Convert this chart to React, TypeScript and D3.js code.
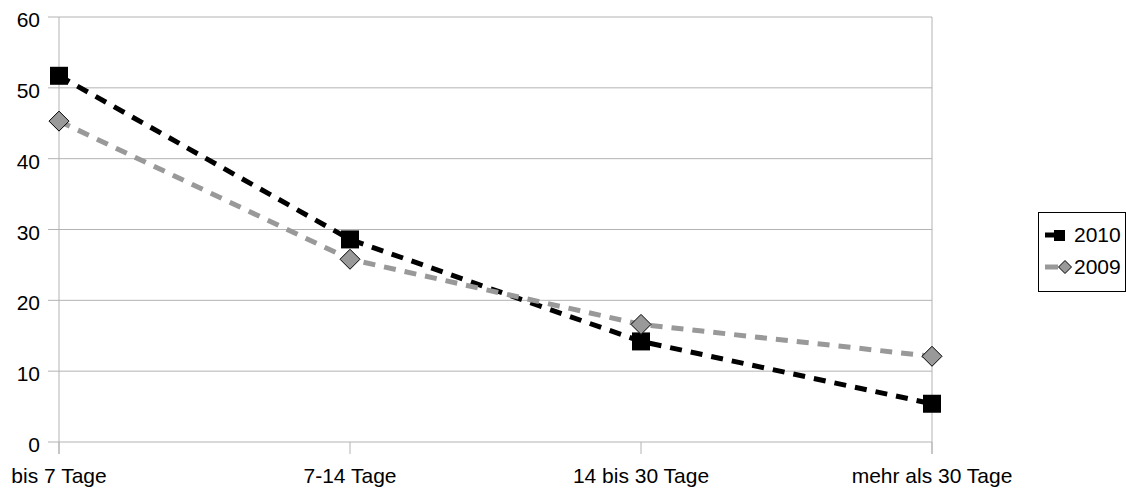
import React from "react";
import * as d3 from "d3";

const categories = ["bis 7 Tage", "7-14 Tage", "14 bis 30 Tage", "mehr als 30 Tage"];
const series2010 = [51.7, 28.6, 14.2, 5.4];
const series2009 = [45.3, 25.8, 16.6, 12.1];
const yTicks = [0, 10, 20, 30, 40, 50, 60];
const seriesNames = ["2010", "2009"];

export default function App() {
  const W = 1126, H = 488;
  const left = 59, right = 932, top = 17, bottom = 442;
  const x = d3.scalePoint<string>().domain(categories).range([left, right]).padding(0);
  const y = d3.scaleLinear().domain([0, 60]).range([bottom, top]);
  const line = d3.line<number>().x((_, i) => x(categories[i])!).y((d) => y(d));
  const font = "'Liberation Sans', Arial, sans-serif";
  const grid = "#b3b3b3";
  const sq = 18;
  const dm = 10;
  const fs = 21;
  const diamond = (cx: number, cy: number, r: number) =>
    `M${cx},${cy - r}L${cx + r},${cy}L${cx},${cy + r}L${cx - r},${cy}Z`;

  return (
    <svg width={W} height={H} style={{ position: "absolute", left: 0, top: 0 }} fontFamily={font}>
      <rect x={0} y={0} width={W} height={H} fill="#fff" />
      {yTicks.map((t) => (
        <g key={t}>
          <line x1={48} x2={right} y1={y(t)} y2={y(t)} stroke={grid} strokeWidth={1} />
          <text x={40} y={y(t) + 10} textAnchor="end" fontSize={fs} fill="#000">{t}</text>
        </g>
      ))}
      <line x1={left} x2={left} y1={top} y2={bottom + 12} stroke={grid} strokeWidth={1} />
      <line x1={right} x2={right} y1={top} y2={bottom + 12} stroke={grid} strokeWidth={1} />
      {categories.map((c) => (
        <g key={c}>
          <line x1={x(c)} x2={x(c)} y1={bottom} y2={bottom + 12} stroke={grid} strokeWidth={1} />
          <text x={x(c)} y={bottom + 41} textAnchor="middle" fontSize={fs} fill="#000">{c}</text>
        </g>
      ))}
      <path d={line(series2010)!} fill="none" stroke="#000" strokeWidth={5} strokeDasharray="12 9" />
      {series2010.map((v, i) => (
        <rect key={i} x={x(categories[i])! - sq / 2} y={y(v) - sq / 2} width={sq} height={sq} fill="#000" />
      ))}
      <path d={line(series2009)!} fill="none" stroke="#999" strokeWidth={5} strokeDasharray="12 9" />
      {series2009.map((v, i) => (
        <path key={i} d={diamond(x(categories[i])!, y(v), dm)} fill="#999" stroke="#000" strokeWidth={1} />
      ))}
      <g>
        <rect x={1038.5} y={212.5} width={87} height={79} fill="#fff" stroke="#000" strokeWidth={1} />
        <line x1={1045} x2={1056} y1={235} y2={235} stroke="#000" strokeWidth={5} />
        <rect x={1054} y={230} width={11} height={11} fill="#000" />
        <text x={1074} y={242} fontSize={fs} fill="#000">{seriesNames[0]}</text>
        <line x1={1045} x2={1058} y1={267} y2={267} stroke="#999" strokeWidth={5} />
        <path d={diamond(1065, 267, 6.5)} fill="#999" stroke="#000" strokeWidth={1} />
        <text x={1074} y={274} fontSize={fs} fill="#000">{seriesNames[1]}</text>
      </g>
    </svg>
  );
}
